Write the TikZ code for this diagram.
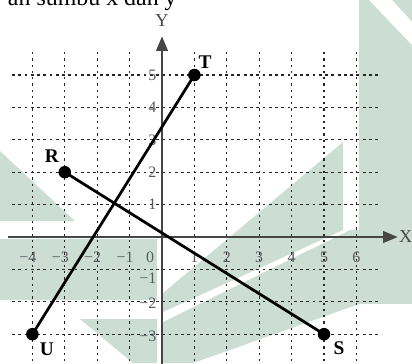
\documentclass[tikz,border=0pt]{standalone}
\usepackage{fontspec}
\setmainfont{Liberation Serif}
\usetikzlibrary{arrows.meta}
\definecolor{wmgreen}{RGB}{204,222,212}
\definecolor{axisgray}{RGB}{70,70,70}
\definecolor{numgray}{RGB}{88,88,96}
\tikzset{
  gridh/.style={black!85,line width=1.1pt,dash pattern=on 2.5pt off 3pt},
  gridv/.style={black!85,line width=1.1pt,dash pattern=on 2pt off 3.5pt},
  axis/.style={axisgray,line width=2.4pt,-{Triangle[length=13pt,width=10pt]}},
  seg/.style={black,line width=2.4pt},
  pt/.style={circle,fill=black,inner sep=0pt,minimum size=11pt},
  ptlab/.style={font=\fontsize{17}{17}\selectfont\bfseries,inner sep=0pt},
  axlab/.style={axisgray,font=\fontsize{16}{16}\selectfont,inner sep=0pt},
  num/.style={numgray,font=\fontsize{14}{14}\selectfont,inner sep=0pt},
}

\begin{document}
\begin{tikzpicture}[x=1cm,y=1cm]
  \useasboundingbox (-5,-3.889) rectangle (7.716,7.315);
  \clip (-5,-3.889) rectangle (7.716,7.315);
  % watermark behind the grid (pixel units)
  \begin{scope}[shift={(-5,7.3148)},x=0.030864cm,y=-0.030864cm]
    \fill[wmgreen] (359,0) -- (412,0) -- (412,304) -- (359,304) -- cycle;
    \fill[white] (369,0) -- (392,0) -- (412,22) -- (412,45) -- cycle;
    \fill[wmgreen] (163,293) -- (343,142) -- (343,230) -- (163,312) -- cycle;
    \fill[wmgreen] (163,322) -- (350,230) -- (359,230) -- (359,304) -- (193,363) -- (163,363) -- cycle;
    \fill[wmgreen] (0,239) rectangle (157,300);
    \fill[wmgreen] (0,151) -- (75,221) -- (0,221) -- cycle;
    \fill[wmgreen] (80,319) -- (157,319) -- (157,363) -- (133,363) -- cycle;
  \end{scope}

  \node[anchor=base east,inner sep=0pt,font=\fontsize{21}{22}\selectfont] (cap) at (0.46,7.13) {an sumbu x dan y};

  % grid
  \foreach \y in {-3,...,5}
    \draw[gridh] (-4.63,\y) -- (6.67,\y);
  \foreach \x in {-4,...,6}
    \draw[gridv] (\x,5.71) -- (\x,-4);

  % axes
  \coordinate (xl) at (-4.75,0);
  \coordinate (xr) at (7.28,0);
  \coordinate (yb) at (0,-4);
  \coordinate (yt) at (0,6.2);
  \draw[axis] (xl) -- (xr);
  \draw[axis] (yb) -- (yt);
  \node[axlab,anchor=west] (xlab) at (7.31,0) {X};
  \node[axlab] (ylab) at (0,6.68) {Y};

  % scale numbers
  \foreach \x in {1,...,6}
    \node[num] (nx\x) at (\x,-0.62) {\x};
  \foreach \x in {1,...,4}
    \node[num] (nxm\x) at (-\x,-0.62) {\llap{−}\x};
  \node[num] (n0) at (-0.37,-0.62) {0};
  \foreach \y in {1,...,5}
    \node[num,anchor=east] (ny\y) at (-0.17,\y) {\y};
  \foreach \y/\v in {1/-1.27,2/-2.04,3/-3.08}
    \node[num,anchor=east] (nym\y) at (-0.17,\v) {−\y};

  % points and segments
  \node[pt] (T) at (1,5) {};
  \node[pt] (R) at (-3,2) {};
  \node[pt] (U) at (-4,-3) {};
  \node[pt] (S) at (5,-3) {};
  \draw[seg] (U.center) -- (T.center);
  \draw[seg] (R.center) -- (S.center);
  \node[ptlab] (Tl) at (1.33,5.40) {T};
  \node[ptlab] (Rl) at (-3.40,2.50) {R};
  \node[ptlab] (Ul) at (-3.55,-3.46) {U};
  \node[ptlab] (Sl) at (5.46,-3.43) {S};
\end{tikzpicture}
\end{document}
